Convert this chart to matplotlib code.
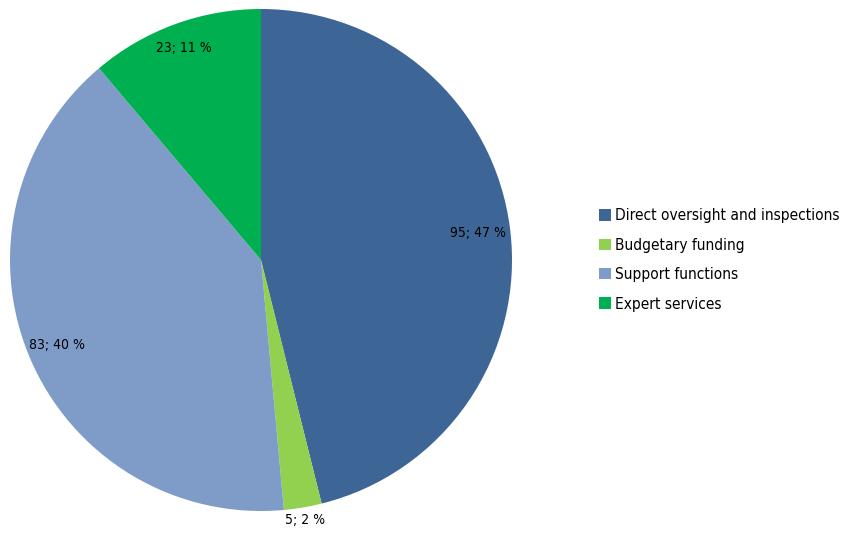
import numpy as np
import matplotlib.pyplot as plt
from matplotlib.patches import Patch

plt.rcParams['font.family'] = ['DejaVu Sans']
plt.rcParams['font.stretch'] = 'condensed'

categories = ['Direct oversight and inspections', 'Budgetary funding',
              'Support functions', 'Expert services']
values = [95, 5, 83, 23]
labels = ['95; 47 %', '5; 2 %', '83; 40 %', '23; 11 %']
colors = ['#3D6596', '#92D050', '#7F9CC8', '#00B050']
label_r = [0.87, 1.05, 0.88, 0.90]

fig = plt.figure(figsize=(8.45, 5.33), dpi=100)
ax = fig.add_axes([10/845, 22/533, 502/845, 502/533])

wedges, _ = ax.pie(values, colors=colors, startangle=90, counterclock=False,
                   radius=1, wedgeprops=dict(linewidth=0))
ax.set_xlim(-1, 1)
ax.set_ylim(-1, 1)
ax.set_aspect('equal')

for w, lab, r in zip(wedges, labels, label_r):
    ang = np.deg2rad((w.theta1 + w.theta2) / 2)
    ax.text(r * np.cos(ang), r * np.sin(ang), lab, ha='center', va='center',
            fontsize=10, color='black')

handles = [Patch(facecolor=c, edgecolor='none') for c in colors]
fig.legend(handles, categories, loc='center left', bbox_to_anchor=(599/845, 1 - 260/533),
           frameon=False, fontsize=11.1, handlelength=0.75, handleheight=0.75,
           handletextpad=0.3, labelspacing=0.93, borderpad=0, borderaxespad=0)

fig.savefig('out.png', dpi=100)
